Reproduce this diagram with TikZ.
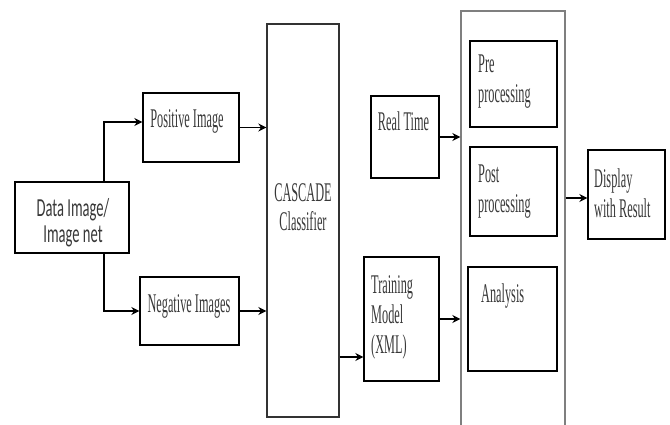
\documentclass[tikz,border=0pt]{standalone}
\usepackage{fontspec}
\usetikzlibrary{arrows.meta, positioning}
\newfontfamily\timesnarrow[FakeStretch=0.455]{Liberation Serif}
\newfontfamily\calibrinarrow[FakeStretch=0.56]{Carlito}
\definecolor{inkGray}{HTML}{383838}
\definecolor{frameGray}{HTML}{7F7F7F}
\tikzset{
  box/.style={draw=black, line width=1.3pt, inner sep=0pt},
  lbl/.style={inner sep=0pt, text=inkGray, font=\fontsize{27}{30}\selectfont\timesnarrow, align=left},
  arrow/.style={-{Stealth[length=8pt,width=8pt]}, line width=1.3pt},
}

\begin{document}
\begin{tikzpicture}[x=1pt, y=-1pt]
\clip (0,0) rectangle (670,425);
\node[box, minimum width=114, minimum height=71] (data) at (72,217.5) {};
\node[box, minimum width=96, minimum height=69] (pos) at (191,127.5) {};
\node[box, minimum width=99, minimum height=68] (neg) at (189.5,311) {};
\node[box, draw=black!80, minimum width=72, minimum height=393] (casc) at (303,220.5) {};
\node[box, minimum width=68, minimum height=82] (rt) at (405,137) {};
\node[box, minimum width=75, minimum height=124] (train) at (401.5,319) {};
\node[box, draw=frameGray, minimum width=104, minimum height=429] (big) at (513,225.5) {};
\node[box, minimum width=87, minimum height=86] (pre) at (513.5,84) {};
\node[box, minimum width=87, minimum height=89] (post) at (513.5,191.5) {};
\node[box, minimum width=89, minimum height=104] (ana) at (512.5,319) {};
\node[box, minimum width=77, minimum height=89] (disp) at (626.5,194.5) {};

\node[lbl, align=center, anchor=base, font=\fontsize{26}{26}\selectfont\calibrinarrow] (data-t) at (73,242.7) {Data Image/\\Image net};
\node[lbl, anchor=base] (pos-t) at (187,128) {Positive Image};
\node[lbl, anchor=base] (neg-t) at (189,312) {Negative Images};
\node[lbl, align=center, anchor=base] (casc-t) at (303,231) {CASCADE\\Classifier};
\node[lbl, anchor=base] (rt-t) at (403.5,131) {Real Time};
\node[lbl, anchor=base west] (train-t) at (371,353) {Training\\Model\\(XML)};
\node[lbl, anchor=base west] (pre-t) at (478,103) {Pre\\processing};
\node[lbl, anchor=base west] (post-t) at (478,213) {Post\\processing};
\node[lbl, anchor=base west] (ana-t) at (481,302) {Analysis};
\node[lbl, anchor=base west] (disp-t) at (594,218) {Display\\with Result};

\draw[arrow] ([xshift=-8]data.north) -- ([xshift=32]data.north) |- ([yshift=5.5]pos.west);
\draw[arrow] ([xshift=32]data.south) |- (neg.west);
\draw[arrow] (pos.east) -- (pos.east -| casc.west);
\draw[arrow] (neg.east) -- (neg.east -| casc.west);
\draw[arrow] ([yshift=-38]train.west -| casc.east) -- ([yshift=-38]train.west);
\draw[arrow] (rt.east) -- (rt.east -| big.west);
\draw[arrow] (train.east) -- (train.east -| big.west);
\draw[arrow] ([yshift=-3.5]disp.west -| big.east) -- ([yshift=-3.5]disp.west);
\end{tikzpicture}
\end{document}
